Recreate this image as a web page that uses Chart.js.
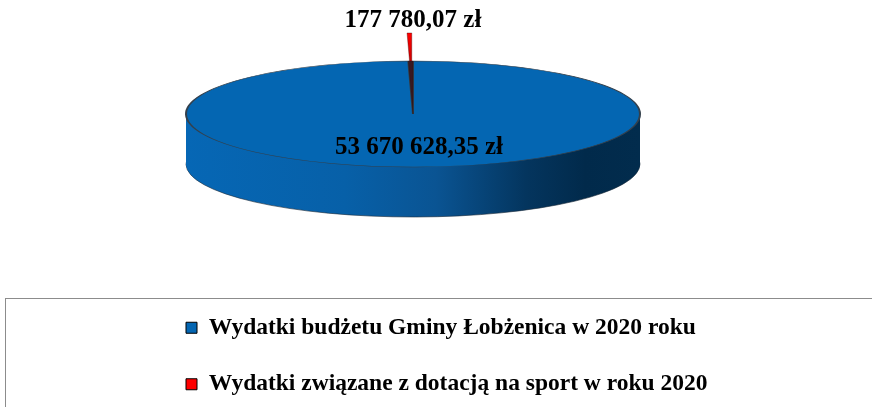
<!DOCTYPE html>
<html>
<head>
<meta charset="utf-8">
<script src="https://cdn.jsdelivr.net/npm/chart.js@4/dist/chart.umd.min.js"></script>
<style>
  html, body { margin: 0; padding: 0; background: #fff; overflow: hidden; }
  #wrap { position: relative; width: 872px; height: 407px; }
</style>
</head>
<body>
<div id="wrap"><canvas id="chart"></canvas></div>
<script>
const labels = [
  'Wydatki budżetu Gminy Łobżenica w 2020 roku',
  'Wydatki związane z dotacją na sport w roku 2020'
]
const values = [53670628.35, 177780.07]
const colors = ['#0466b2', '#ff0000']

// where the flattened 3d pie goes on the page
const PX = 413, PY = 114, RX = 227, RY = 53, DEPTH = 50
const K = RY / RX
const EXPLODE = 120 // pull-out of the small slice, in unflattened px

function zl(v) {
  const [i, d] = v.toFixed(2).split('.')
  return i.replace(/\B(?=(\d{3})+(?!\d))/g, ' ') + ',' + d + ' zł'
}

function project(ctx, cx, cy, dy) {
  ctx.translate(PX, PY + dy)
  ctx.scale(1, K)
  ctx.translate(-cx, -cy)
}

// draw an arc element with some options swapped out for a moment
function drawArcAs(arc, ctx, opts) {
  const saved = arc.options
  arc.options = Object.assign({}, saved, opts)
  arc.draw(ctx)
  arc.options = saved
}

const pie3d = {
  id: 'pie3d',
  beforeDatasetsDraw(chart) {
    const ctx = chart.ctx
    const arcs = chart.getDatasetMeta(0).data
    const { x: cx, y: cy } = arcs[0]

    const side = ctx.createLinearGradient(cx - RX, 0, cx + RX, 0)
    side.addColorStop(0, '#0667b5')
    side.addColorStop(0.35, '#0760a8')
    side.addColorStop(0.55, '#0a5493')
    side.addColorStop(0.75, '#04355e')
    side.addColorStop(0.88, '#012a4b')
    side.addColorStop(1, '#022c4d')

    // side walls: the big slice stacked downwards
    for (let d = DEPTH; d > 0; d--) {
      ctx.save()
      project(ctx, cx, cy, d)
      drawArcAs(arcs[0], ctx, {
        backgroundColor: side,
        borderWidth: d === DEPTH ? 1 : 0,
        borderColor: '#1b2a3a'
      })
      ctx.restore()
    }

    // the small slice pulled out backwards; the top face covers its inner part
    const small = arcs[1]
    const mid = (small.startAngle + small.endAngle) / 2
    ctx.save()
    project(ctx, cx, cy, 0)
    ctx.translate(Math.cos(mid) * EXPLODE, Math.sin(mid) * EXPLODE)
    const red = ctx.createLinearGradient(0, cy - RX, 0, cy)
    red.addColorStop(0, colors[1])
    red.addColorStop(0.5, '#d00000')
    red.addColorStop(1, '#300000')
    drawArcAs(small, ctx, { backgroundColor: red, borderWidth: 0.6, borderColor: '#400000' })
    ctx.restore()

    // top face is drawn by chart.js under this transform
    ctx.save()
    project(ctx, cx, cy, 0)
  },
  afterDatasetsDraw(chart) {
    const ctx = chart.ctx
    ctx.restore()

    ctx.save()
    ctx.fillStyle = '#000'
    ctx.font = 'bold 25px "Liberation Serif"'
    ctx.textAlign = 'center'
    ctx.textBaseline = 'middle'
    ctx.fillText(zl(values[1]), PX, 21)
    ctx.fillText(zl(values[0]), PX + 6, 148)
    ctx.restore()
  },
  afterDraw(chart) {
    const ctx = chart.ctx
    ctx.save()
    ctx.strokeStyle = '#8c8c8c'
    ctx.lineWidth = 1
    ctx.strokeRect(5.5, 298.5, 900, 200)
    ctx.restore()
  }
}

new Chart(document.getElementById('chart'), {
  type: 'pie',
  data: {
    labels,
    datasets: [{
      data: values,
      // the small slice's spot in the top face shows only its dark inner wall
      backgroundColor: [colors[0], '#3a1820'],
      borderColor: ['#34404c', '#2a1212'],
      borderWidth: [2, 0.6],
      hoverOffset: 0,
      clip: false
    }]
  },
  options: {
    responsive: true,
    maintainAspectRatio: false,
    animation: false,
    events: [],
    radius: RX,
    layout: { padding: { left: 153, right: 0, top: 0, bottom: 1 } },
    plugins: {
      tooltip: { enabled: false },
      legend: {
        position: 'bottom',
        align: 'start',
        labels: {
          boxWidth: 11,
          boxHeight: 11,
          padding: 33,
          color: '#000',
          font: { family: 'Liberation Serif', size: 23.5, weight: 'bold' },
          generateLabels: chart => Chart.overrides.pie.plugins.legend.labels.generateLabels(chart)
            .map((it, i) => ({ ...it, fillStyle: colors[i], lineWidth: 1, strokeStyle: '#000' }))
        }
      }
    }
  },
  plugins: [pie3d]
})
</script>
</body>
</html>
